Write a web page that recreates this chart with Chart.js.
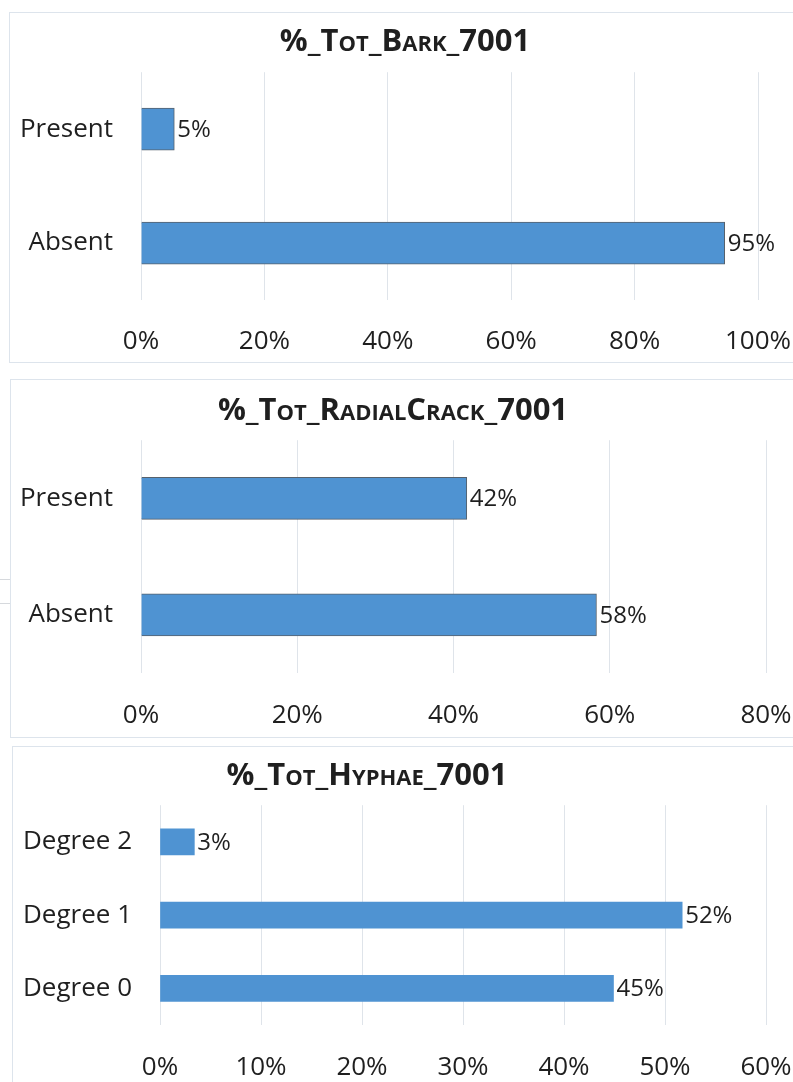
<!DOCTYPE html>
<html>
<head>
<meta charset="utf-8">
<script src="https://cdn.jsdelivr.net/npm/chart.js@4.4.1/dist/chart.umd.min.js"></script>
<style>
  html, body { margin: 0; padding: 0; background: #fff; overflow: hidden; }
  body { position: relative; width: 793px; height: 1082px; }
  .box { position: absolute; border: 1px solid #dde4ec; box-sizing: border-box; }
  .scrap { position: absolute; left: 0; width: 10px; height: 1px; background: #d6d9dd; }
  canvas { position: absolute; left: 0; }
</style>
</head>
<body>
<div class="box" style="left:9px;top:12px;width:900px;height:351px"></div>
<div class="box" style="left:10px;top:379px;width:900px;height:359px"></div>
<div class="box" style="left:12px;top:746px;width:900px;height:400px"></div>
<div class="scrap" style="top:579px"></div>
<div class="scrap" style="top:603px"></div>

<canvas id="bark-chart" width="860" height="350" style="top:12px"></canvas>
<canvas id="crack-chart" width="860" height="357" style="top:380px"></canvas>
<canvas id="hyphae-chart" width="860" height="336" style="top:746px"></canvas>

<script>
const barkTitle = "%_Tot_Bark_7001";
const barkLabels = ["Present", "Absent"];
const barkValues = [5.4, 94.6];

const crackTitle = "%_Tot_RadialCrack_7001";
const crackLabels = ["Present", "Absent"];
const crackValues = [41.7, 58.3];

const hyphaeTitle = "%_Tot_Hyphae_7001";
const hyphaeLabels = ["Degree 2", "Degree 1", "Degree 0"];
const hyphaeValues = [3.4, 51.7, 44.9];

const FONT = "'Open Sans', 'Noto Sans', sans-serif";
const TEXT = "#1f1f1f";

// draws the rounded "NN%" text just past the end of each bar
const valueLabels = {
  id: "valueLabels",
  afterDatasetsDraw(chart) {
    const ctx = chart.ctx;
    const values = chart.data.datasets[0].data;
    ctx.save();
    ctx.font = "24px " + FONT;
    ctx.fillStyle = TEXT;
    ctx.textAlign = "left";
    ctx.textBaseline = "middle";
    chart.getDatasetMeta(0).data.forEach((bar, i) => {
      ctx.fillText(Math.round(values[i]) + "%", bar.x + 3, bar.y + 1);
    });
    ctx.restore();
  },
};

// excel centres the title over the whole (cropped) chart box, not the canvas
const titleCenter = {
  id: "titleCenter",
  afterLayout(chart, args, opts) {
    const t = chart.titleBlock;
    if (!t || opts.x == null) return;
    const half = (t.right - t.left) / 2;
    t.left = opts.x - half;
    t.right = opts.x + half;
  },
};

function plotBars(id, title, labels, values, cfg) {
  new Chart(document.getElementById(id), {
    type: "bar",
    data: {
      labels: labels,
      datasets: [
        {
          data: values,
          backgroundColor: "#4f93d2",
          borderColor: cfg.border ? "#56616c" : "#4f93d2",
          borderWidth: cfg.border ? 1 : 0,
          barThickness: cfg.thickness,
        },
      ],
    },
    plugins: [valueLabels, titleCenter],
    options: {
      indexAxis: "y",
      responsive: false,
      animation: false,
      layout: { padding: { left: 0, right: cfg.padRight, top: 0, bottom: 0 } },
      plugins: {
        legend: { display: false },
        tooltip: { enabled: false },
        titleCenter: { x: cfg.titleX },
        title: {
          display: true,
          text: title,
          color: TEXT,
          font: { family: FONT, size: 31, weight: "small-caps bold", lineHeight: 1.2 },
          padding: { top: cfg.titleTop, bottom: cfg.titleBottom },
        },
      },
      scales: {
        x: {
          min: 0,
          max: cfg.max,
          border: { display: false },
          grid: { color: "#dfe4ea", lineWidth: 1, drawTicks: false },
          ticks: {
            stepSize: cfg.step,
            color: TEXT,
            padding: cfg.tickPad,
            maxRotation: 0,
            autoSkip: false,
            font: { family: FONT, size: 26 },
            callback: (v) => v + "%",
          },
          afterFit: (scale) => { scale.height = cfg.xHeight; },
        },
        y: {
          border: { display: false },
          grid: { display: false, drawTicks: false },
          ticks: {
            color: TEXT,
            padding: 28,
            font: { family: FONT, size: 26 },
          },
          afterFit: (scale) => { scale.width = cfg.yWidth; },
        },
      },
    },
  });
}

plotBars("bark-chart", barkTitle, barkLabels, barkValues, {
  max: 100, step: 20, thickness: 42, border: true,
  padRight: 102, yWidth: 141, titleX: 405,
  titleTop: 12, titleBottom: 11, xHeight: 62, tickPad: 26,
});

plotBars("crack-chart", crackTitle, crackLabels, crackValues, {
  max: 80, step: 20, thickness: 42, border: true,
  padRight: 94, yWidth: 141, titleX: 393,
  titleTop: 13, titleBottom: 10, xHeight: 64, tickPad: 27,
});

plotBars("hyphae-chart", hyphaeTitle, hyphaeLabels, hyphaeValues, {
  max: 60, step: 10, thickness: 26, border: false,
  padRight: 94, yWidth: 160, titleX: 367,
  titleTop: 12, titleBottom: 10, xHeight: 57, tickPad: 27,
});
</script>
</body>
</html>
